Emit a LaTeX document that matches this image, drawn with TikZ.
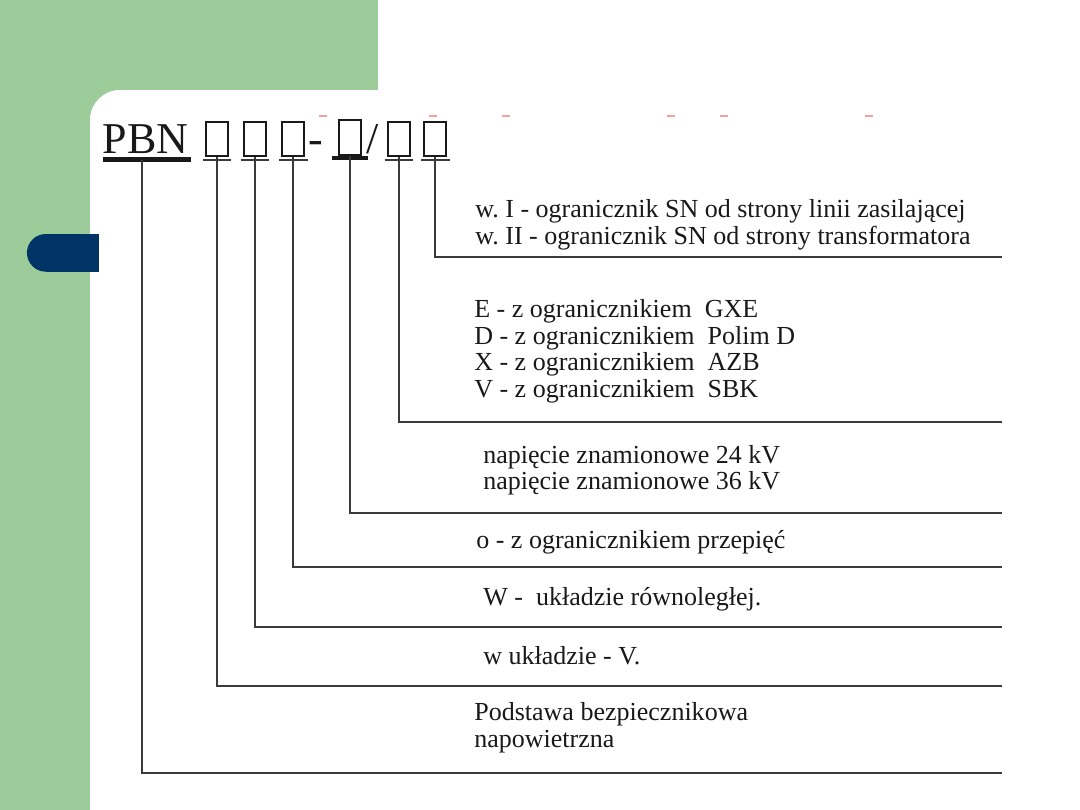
\documentclass[tikz,border=0pt]{standalone}
\usepackage{fontspec}
\setmainfont{Liberation Serif}
\usepackage{xcolor}
\usepackage{tikz}
\usetikzlibrary{calc, positioning}
\definecolor{slidegreen}{HTML}{9BCC99}
\definecolor{tabblue}{HTML}{003366}
\definecolor{leadgray}{HTML}{3A3A3A}
\definecolor{marknoise}{HTML}{F2A0A0}

\tikzset{
  codebox/.style={draw=black!90, line width=1.5pt, minimum width=0.55cm,
    minimum height=0.84cm, inner sep=0pt},
  uline/.style={draw=leadgray, line width=1.1pt},
  heavybar/.style={draw=black!90, line width=3.2pt},
  lead/.style={draw=leadgray, line width=1.3pt},
  desc/.style={anchor=base west, align=left, inner sep=0pt,
    font=\fontsize{18.5}{18.8}\selectfont, text=black!90},
  codetext/.style={anchor=base west, inner sep=0pt,
    font=\fontsize{31.3}{34}\selectfont, text=black!90},
}

\begin{document}
\begin{tikzpicture}[x=0.025cm, y=-0.025cm]
        \useasboundingbox (0,0) rectangle (1080,810);
        \clip (0,0) rectangle (1080,810);
        % Slide background
        \fill[slidegreen] (0,0) rectangle (378,810);
        \fill[white, rounded corners=21.3pt] (90,90) rectangle (1140,870);
        % Blue tab
        \fill[tabblue] (45.8,234) rectangle (99,271.7);
        \fill[tabblue] (45.8,252.85) circle[radius=0.471cm];
        % Faint marks above the code
        \foreach \x in {323,433,506,671,724,869}
          \draw[marknoise, line width=0.8pt] (\x-4,116) -- (\x+4,116);
        % Code: PBN and the letter boxes
        \node[codetext] (pbn) at (102.5,153) {PBN};
        \draw[heavybar] (103,159.7) -- (190.7,159.7);
        \coordinate (pbar) at (141.7,160);
        \node[codebox] (b1) at (217.2,138.9) {};
        \node[codebox] (b2) at (255,138.9) {};
        \node[codebox] (b3) at (293.3,138.9) {};
        \node[codetext] (dash) at (308,153) {-};
        \node[codebox, minimum height=0.88cm] (b4) at (350,137.5) {};
        \node[codetext] (slash) at (366.3,153) {/};
        \node[codebox] (b5) at (399.2,138.9) {};
        \node[codebox] (b6) at (435.3,138.9) {};
        % Underlines below the boxes
        \foreach \b in {b1,b2,b3,b5,b6}
          \draw[uline] ($(\b.south west)+(-2.2,3.3)$) -- ($(\b.south east)+(2.2,3.3)$);
        \draw[heavybar] ($(b4.south west)+(-6,2)$) -- ($(b4.south east)+(6,2)$);
        % Line ends on the right
        \coordinate (e6) at (1002,257);
        \coordinate (e5) at (1002,422);
        \coordinate (e4) at (1002,513);
        \coordinate (e3) at (1002,567);
        \coordinate (e2) at (1002,627);
        \coordinate (e1) at (1002,686);
        \coordinate (e0) at (1002,773);
        % Descriptions (base = last line)
        \node[desc] (t6) at (475,244)
          {w.\ I - ogranicznik SN od strony linii zasilającej\\
           w.\ II - ogranicznik SN od strony transformatora};
        \node[desc] (t5) at (474,397)
          {E - z ogranicznikiem~ GXE\\
           D - z ogranicznikiem~ Polim D\\
           X - z ogranicznikiem~ AZB\\
           V - z ogranicznikiem~ SBK};
        \node[desc] (t4) at (483,489.5)
          {napięcie znamionowe 24 kV\\
           napięcie znamionowe 36 kV};
        \node[desc] (t3) at (476,548) {o - z ogranicznikiem przepięć};
        \node[desc] (t2) at (483,605) {W -~ układzie równoległej.};
        \node[desc] (t1) at (483,664) {w układzie - V.};
        \node[desc] (t0) at (474,747)
          {Podstawa bezpiecznikowa\\
           napowietrzna};
        % Leaders
        \draw[lead] (b6.south) |- (e6);
        \draw[lead] (b5.south) |- (e5);
        \draw[lead] (b4.south) |- (e4);
        \draw[lead] (b3.south) |- (e3);
        \draw[lead] (b2.south) |- (e2);
        \draw[lead] (b1.south) |- (e1);
        \draw[lead] (pbar) |- (e0);
\end{tikzpicture}
\end{document}
